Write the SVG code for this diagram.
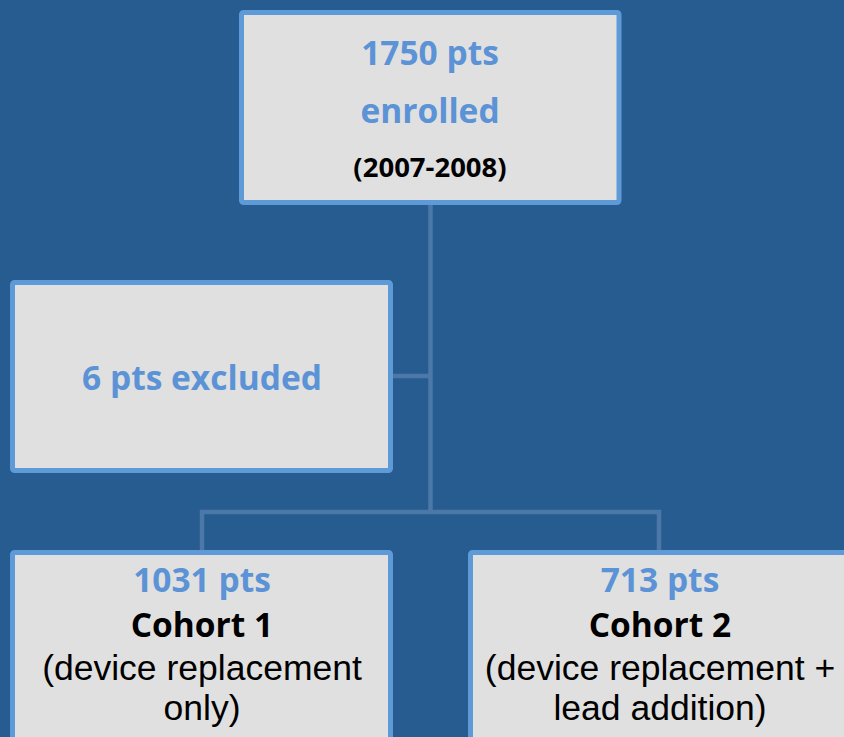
<svg xmlns="http://www.w3.org/2000/svg" width="844" height="737" viewBox="0 0 844 737">
  <style>
    .box { fill: #e0e0e0; stroke: #5e9ad8; stroke-width: 5; }
    .link { fill: none; stroke: #4b78a8; stroke-width: 4.5; }
    text { font-family: "Open Sans", "Liberation Sans", sans-serif; text-anchor: middle; }
    .hd { font-weight: bold; fill: #5b93d6; font-size: 33.5px; }
    .bk { font-weight: bold; fill: #000; font-size: 33.5px; }
    .yr { font-weight: bold; fill: #000; font-size: 27.5px; }
    .rg { fill: #000; font-size: 35.5px; font-family: "Liberation Sans", Arial, sans-serif; }
  </style>
  <rect x="0" y="0" width="844" height="737" fill="#265c8f"/>

  <!-- connectors -->
  <g id="connectors">
    <path class="link" d="M430.5 205 V512"/>
    <path class="link" d="M393 376 H430.5"/>
    <path class="link" d="M202 550 V512 H659 V550"/>
  </g>

  <!-- enrolled -->
  <g id="enrolled">
    <rect class="box" x="241.5" y="12.5" width="377.5" height="190" rx="2"/>
    <text class="hd" x="430" y="65">1750 pts</text>
    <text class="hd" x="430" y="123">enrolled</text>
    <text class="yr" x="430" y="177">(2007-2008)</text>
  </g>

  <!-- excluded -->
  <g id="excluded">
    <rect class="box" x="12.5" y="282.5" width="378" height="188" rx="2"/>
    <text class="hd" x="202" y="390">6 pts excluded</text>
  </g>

  <!-- cohort 1 -->
  <g id="cohort1">
    <rect class="box" x="12.5" y="552.5" width="378" height="200" rx="2"/>
    <text class="hd" x="202" y="592">1031 pts</text>
    <text class="bk" x="202" y="637">Cohort 1</text>
    <text class="rg"><tspan x="202" y="680">(device replacement</tspan><tspan x="202" y="720">only)</tspan></text>
  </g>

  <!-- cohort 2 -->
  <g id="cohort2">
    <rect class="box" x="470.5" y="552.5" width="380" height="200" rx="2"/>
    <text class="hd" x="660" y="592">713 pts</text>
    <text class="bk" x="660" y="637">Cohort 2</text>
    <text class="rg"><tspan x="660" y="680">(device replacement +</tspan><tspan x="660" y="720">lead addition)</tspan></text>
  </g>
</svg>
